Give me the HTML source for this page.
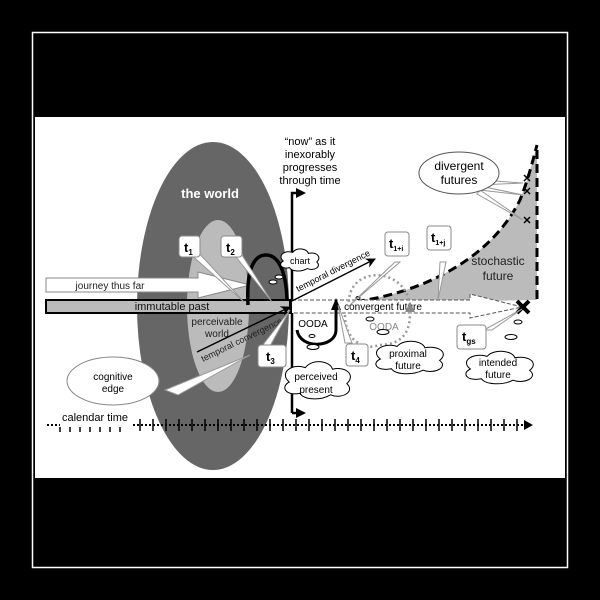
<!DOCTYPE html>
<html><head><meta charset="utf-8"><style>
html,body{margin:0;padding:0;background:#000;}
svg{display:block;}
text{font-family:"Liberation Sans",sans-serif;}
</style></head><body>
<svg width="600" height="600" viewBox="0 0 600 600" xmlns="http://www.w3.org/2000/svg">
<defs>
<marker id="ah" markerWidth="10" markerHeight="10" refX="9" refY="5" orient="auto" markerUnits="userSpaceOnUse"><path d="M0,0 L10,5 L0,10 L3,5 Z" fill="#000"/></marker>
<path id="cloud" d="M-16,0 C-22,-6 -14,-12 -7,-9 C-3,-15 7,-13 8,-8 C16,-10 21,-4 16,1 C21,6 13,11 7,8 C1,12 -8,11 -10,7 C-18,9 -21,3 -16,0 Z" fill="#fff" stroke="#000" stroke-width="1" vector-effect="non-scaling-stroke"/>
</defs>
<rect x="0" y="0" width="600" height="600" fill="#000"/>
<rect x="32.5" y="32.5" width="535" height="535" fill="none" stroke="#fff" stroke-width="1.5"/>
<rect x="35" y="117" width="530" height="361" fill="#fff"/>

<path d="M345,303 C420,295 490,260 520,200 C528,180 533,160 537,145 L537,300 Z" fill="#bbb"/>
<path d="M300,305 L345,303 C420,295 490,260 520,200 C528,180 533,160 537,145" fill="none" stroke="#000" stroke-width="3" stroke-dasharray="9,5"/>
<line x1="537" y1="150" x2="537" y2="300" stroke="#000" stroke-width="3" stroke-dasharray="9,5"/>

<ellipse cx="213" cy="306" rx="76" ry="164" fill="#666"/>
<ellipse cx="218" cy="306" rx="31" ry="86" fill="#bbb"/>
<text x="210" y="198" font-size="13" font-weight="bold" fill="#fff" text-anchor="middle">the world</text>
<text x="217" y="325" font-size="10" fill="#222" text-anchor="middle">perceivable</text>
<text x="217" y="337" font-size="10" fill="#222" text-anchor="middle">world</text>

<path d="M46,278 L198,278 L198,272 L250,285 L198,298 L198,292 L46,292 Z" fill="#fff" stroke="#888" stroke-width="1"/>
<text x="110" y="289" font-size="10" fill="#222" text-anchor="middle">journey thus far</text>

<rect x="46" y="300" width="244" height="13" fill="#bbb" stroke="#000" stroke-width="2"/>
<text x="172" y="310" font-size="11" fill="#111" text-anchor="middle">immutable past</text>

<path d="M248,305 C246,265 256,255 266,255 C278,255 286,270 287,300" fill="none" stroke="#000" stroke-width="3.5"/>
<ellipse cx="273" cy="282" rx="4" ry="2" fill="#fff" stroke="#000"/>
<ellipse cx="279" cy="277" rx="4" ry="2" fill="#fff" stroke="#000"/>

<path d="M292,413 L292,193 L300,193" fill="none" stroke="#000" stroke-width="2.5"/>
<path d="M296,188 L306,193 L296,198 Z" fill="#000"/>
<path d="M292,413 L300,413" stroke="#000" stroke-width="2.5"/>
<path d="M296,408 L306,413 L296,418 Z" fill="#000"/>
<text x="310" y="145" font-size="11" text-anchor="middle">“now” as it</text>
<text x="310" y="158" font-size="11" text-anchor="middle">inexorably</text>
<text x="310" y="171" font-size="11" text-anchor="middle">progresses</text>
<text x="310" y="184" font-size="11" text-anchor="middle">through time</text>

<path d="M292,300 L470,300 L470,294 L522,307 L470,318 L470,313 L292,313" fill="#fff" stroke="#555" stroke-width="1" stroke-dasharray="4,2"/>
<text x="383" y="310" font-size="10" text-anchor="middle">convergent future</text>
<path d="M517,301 L529,313 M529,301 L517,313" stroke="#000" stroke-width="4"/>

<line x1="292" y1="301" x2="375" y2="259" stroke="#000" stroke-width="1.5" marker-end="url(#ah)"/>
<text x="0" y="0" font-size="9" transform="translate(298,292) rotate(-27)">temporal divergence</text>
<line x1="197" y1="352" x2="290" y2="307" stroke="#000" stroke-width="1.5" marker-end="url(#ah)"/>
<text x="0" y="0" font-size="9" fill="#222" transform="translate(203,362) rotate(-26)">temporal convergence</text>

<path d="M349,307 C345,265 405,265 410,305 M345,315 C345,345 370,350 378,345 C400,345 410,335 410,313" fill="none" stroke="#999" stroke-width="2.5" stroke-dasharray="2,3"/>
<path d="M405,312 L410,302 L415,312 Z" fill="#888"/>
<text x="384" y="330" font-size="10" fill="#888" text-anchor="middle">OODA</text>

<path d="M336,308 L336,330 C336,348 300,350 297,330" fill="none" stroke="#000" stroke-width="3"/>
<path d="M331,310 L336,298 L341,310 Z" fill="#000"/>
<text x="313" y="327" font-size="10" text-anchor="middle">OODA</text>
<ellipse cx="312" cy="336" rx="3" ry="1.5" fill="#fff" stroke="#000"/>
<ellipse cx="313" cy="347" rx="6" ry="2.5" fill="#fff" stroke="#000"/>
<ellipse cx="370" cy="319" rx="4" ry="2" fill="#fff" stroke="#000"/>
<ellipse cx="383" cy="332" rx="6" ry="2.5" fill="#fff" stroke="#000"/>
<ellipse cx="358" cy="298" rx="2" ry="1.5" fill="#fff" stroke="#000"/>
<ellipse cx="518" cy="322" rx="4" ry="2" fill="#fff" stroke="#000"/>
<ellipse cx="511" cy="337" rx="6" ry="2.5" fill="#fff" stroke="#000"/>

<g stroke="#999" stroke-width="1" fill="#fff">
<path d="M188,252 L244,302 L196,250 Z"/>
<path d="M232,252 L272,302 L240,252 Z"/>
<path d="M262,346 L290,310 L270,346 Z"/>
<path d="M345,343 L338,305 L352,343 Z"/>
<path d="M395,262 L350,305 L400,262 Z"/>
<path d="M440,262 L438,300 L446,262 Z"/>
<path d="M484,330 L522,309 L492,330 Z"/>
<path d="M165,390 L250,355 L178,395 Z"/>
<path d="M480,180 L523,183 L480,185 Z"/>
<path d="M480,186 L523,195 L480,190 Z"/>
<path d="M480,190 L523,220 L477,194 Z"/>
</g>
<g fill="#fff" stroke="#888" stroke-width="1">
<rect x="179" y="236" width="21" height="21" rx="3"/>
<rect x="221" y="236" width="21" height="21" rx="3"/>
<rect x="258" y="345" width="28" height="22" rx="3"/>
<rect x="346" y="344" width="22" height="22" rx="3"/>
<rect x="385" y="232" width="24" height="24" rx="3"/>
<rect x="427" y="226" width="24" height="24" rx="3"/>
<rect x="457" y="325" width="29" height="24" rx="3"/>
</g>
<g font-size="13" font-weight="bold">
<text x="184" y="252">t<tspan font-size="8" dy="3">1</tspan></text>
<text x="226" y="252">t<tspan font-size="8" dy="3">2</tspan></text>
<text x="266" y="361">t<tspan font-size="8" dy="3">3</tspan></text>
<text x="351" y="360">t<tspan font-size="8" dy="3">4</tspan></text>
<text x="389" y="248">t<tspan font-size="7" dy="3">1+i</tspan></text>
<text x="431" y="242">t<tspan font-size="7" dy="3">1+j</tspan></text>
<text x="462" y="341">t<tspan font-size="8" dy="3">gs</tspan></text>
</g>

<ellipse cx="113" cy="381" rx="46" ry="24" fill="#fff" stroke="#888"/>
<text x="113" y="380" font-size="10" text-anchor="middle">cognitive</text>
<text x="113" y="392" font-size="10" text-anchor="middle">edge</text>
<ellipse cx="459" cy="173" rx="40" ry="21" fill="#fff" stroke="#555"/>
<text x="459" y="170" font-size="12" text-anchor="middle">divergent</text>
<text x="459" y="184" font-size="12" text-anchor="middle">futures</text>
<g stroke="#000" stroke-width="1.5">
<path d="M524,175 L530,181 M530,175 L524,181"/>
<path d="M524,188 L530,194 M530,188 L524,194"/>
<path d="M524,217 L530,223 M530,217 L524,223"/>
</g>
<text x="498" y="265" font-size="12" fill="#222" text-anchor="middle">stochastic</text>
<text x="498" y="280" font-size="12" fill="#222" text-anchor="middle">future</text>

<use href="#cloud" transform="translate(300,261) scale(1.05,0.95)"/>
<use href="#cloud" transform="translate(318,382) scale(1.8,1.6)"/>
<use href="#cloud" transform="translate(410,359) scale(1.85,1.4)"/>
<use href="#cloud" transform="translate(500,369) scale(1.85,1.4)"/>
<text x="300" y="264" font-size="9" text-anchor="middle">chart</text>
<text x="316" y="380" font-size="10" text-anchor="middle">perceived</text>
<text x="316" y="393" font-size="10" text-anchor="middle">present</text>
<text x="408" y="357" font-size="10" text-anchor="middle">proximal</text>
<text x="408" y="369" font-size="10" text-anchor="middle">future</text>
<text x="498" y="366" font-size="10" text-anchor="middle">intended</text>
<text x="498" y="378" font-size="10" text-anchor="middle">future</text>

<text x="62" y="421" font-size="11">calendar time</text>
<line x1="47" y1="425" x2="60" y2="425" stroke="#000" stroke-width="2" stroke-dasharray="2,2"/>
<g stroke="#000" stroke-width="1.5">
<line x1="60" y1="427" x2="60" y2="432"/><line x1="70" y1="427" x2="70" y2="432"/><line x1="80" y1="427" x2="80" y2="432"/><line x1="90" y1="427" x2="90" y2="432"/><line x1="100" y1="427" x2="100" y2="432"/><line x1="110" y1="427" x2="110" y2="432"/><line x1="120" y1="427" x2="120" y2="432"/>
</g>
<line x1="133" y1="425" x2="525" y2="425" stroke="#000" stroke-width="2" stroke-dasharray="2,2"/>
<path d="M524,420 L533,425 L524,430 Z" fill="#000"/>
<g stroke="#000" stroke-width="1.5">
<path d="M140,419V431M153,419V431M166,419V431M179,419V431M192,419V431M205,419V431M218,419V431M231,419V431M244,419V431M257,419V431M270,419V431M283,419V431M296,419V431M309,419V431M322,419V431M335,419V431M348,419V431M361,419V431M374,419V431M387,419V431M400,419V431M413,419V431M426,419V431M439,419V431M452,419V431M465,419V431M478,419V431M491,419V431M504,419V431M517,419V431"/>
</g>
</svg>
</body></html>
